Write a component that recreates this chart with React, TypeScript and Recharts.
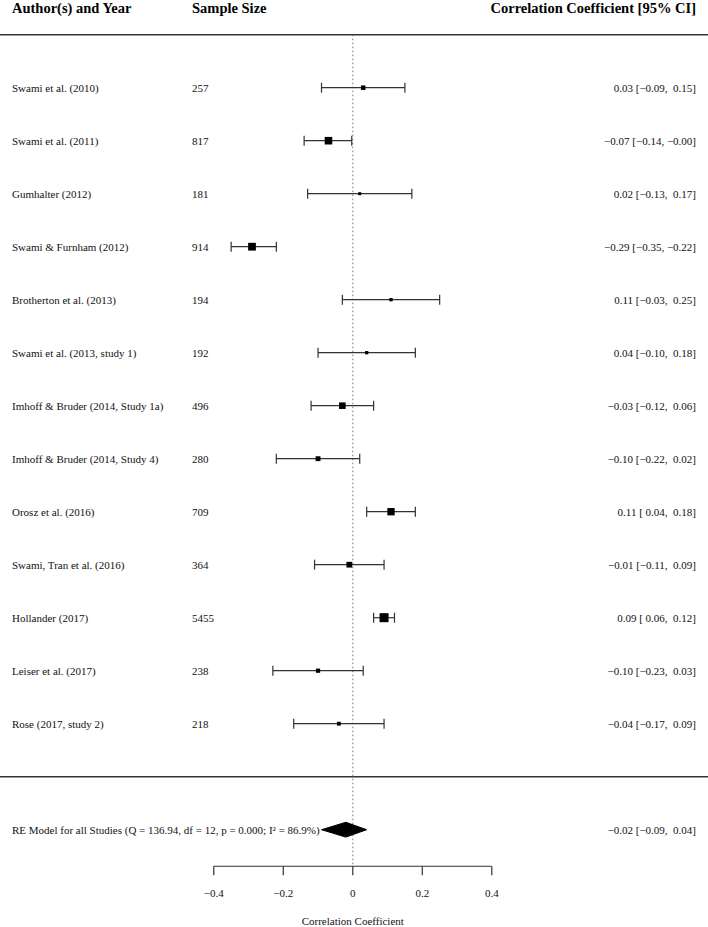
import { ComposedChart, XAxis, YAxis, Scatter, ErrorBar, ReferenceLine } from 'recharts';

// study level data
const authors = [
  'Swami et al. (2010)',
  'Swami et al. (2011)',
  'Gumhalter (2012)',
  'Swami & Furnham (2012)',
  'Brotherton et al. (2013)',
  'Swami et al. (2013, study 1)',
  'Imhoff & Bruder (2014, Study 1a)',
  'Imhoff & Bruder (2014, Study 4)',
  'Orosz et al. (2016)',
  'Swami, Tran et al. (2016)',
  'Hollander (2017)',
  'Leiser et al. (2017)',
  'Rose (2017, study 2)',
];
const sampleSizes = [257, 817, 181, 914, 194, 192, 496, 280, 709, 364, 5455, 238, 218];
const estimates = [0.03, -0.07, 0.02, -0.29, 0.11, 0.04, -0.03, -0.1, 0.11, -0.01, 0.09, -0.1, -0.04];
const lowerCI = [-0.09, -0.14, -0.13, -0.35, -0.03, -0.1, -0.12, -0.22, 0.04, -0.11, 0.06, -0.23, -0.17];
const upperCI = [0.15, -0.003, 0.17, -0.22, 0.25, 0.18, 0.06, 0.02, 0.18, 0.09, 0.12, 0.03, 0.09];

// random effects summary
const summaryEstimate = -0.02;
const summaryLower = -0.09;
const summaryUpper = 0.04;
const qStat = 136.94;
const qDf = 12;
const pValue = '0.000';
const iSquared = '86.9';

const axisTicks = [-0.4, -0.2, 0, 0.2, 0.4];
const headers = ['Author(s) and Year', 'Sample Size', 'Correlation Coefficient [95% CI]'];
const axisTitle = 'Correlation Coefficient';

// layout (pixels / row units)
const W = 708;
const H = 927;
const X_DOMAIN = [-1.0152, 1.0222];
const Y_DOMAIN = [-0.6547, 16.836];
const COL_AUTHOR = 12;
const COL_N = 192;
const COL_RIGHT = 696;
const HEADER_ROW = -0.5;
const BOTTOM_LINE_ROW = 14;
const SUMMARY_ROW = 15;
const AXIS_ROW = 15.69;
const TICK_LEN = 0.17;
const TICK_LABEL_ROW = 16.2;
const TITLE_ROW = 16.73;
const DIAMOND_HALF = 0.14;
const FONT = '"Liberation Serif", "Times New Roman", serif';
const LINE = '#333';

const minus = '\u2212';
const fmt = (v: number) => (v < 0 ? minus : '') + Math.abs(v).toFixed(2);
const padFmt = (v: number) => (v < 0 ? fmt(v) : ' ' + fmt(v));
const ciText = (e: number, l: number, u: number) => `${fmt(e)} [${padFmt(l)}, ${padFmt(u)}]`;
const tickText = (t: number) => (t === 0 ? '0' : (t < 0 ? minus : '') + Math.abs(t).toFixed(1));

// RE weights -> square sizes (metafor style: rescaled to 0.5 .. 1.5)
const fisherW = sampleSizes.map((n) => n - 3);
const sumW = fisherW.reduce((a, b) => a + b, 0);
const sumW2 = fisherW.reduce((a, b) => a + b * b, 0);
const tau2 = (qStat - qDf) / (sumW - sumW2 / sumW);
const reW = sampleSizes.map((n) => 1 / (1 / (n - 3) + tau2));
const wMin = Math.min(...reW);
const wMax = Math.max(...reW);
const psize = reW.map((w) => (w - wMin) / (wMax - wMin) + 0.5);

const studyData = authors.map((author, i) => ({
  x: estimates[i],
  y: i + 1,
  err: [estimates[i] - lowerCI[i], upperCI[i] - estimates[i]],
  author,
  n: sampleSizes[i],
  side: psize[i] * 6,
  label: ciText(estimates[i], lowerCI[i], upperCI[i]),
}));

const diamondData = [
  { x: summaryLower, y: SUMMARY_ROW },
  { x: summaryEstimate, y: SUMMARY_ROW - DIAMOND_HALF },
  { x: summaryUpper, y: SUMMARY_ROW },
  { x: summaryEstimate, y: SUMMARY_ROW + DIAMOND_HALF },
  { x: summaryLower, y: SUMMARY_ROW },
];

const summaryData = [{ x: summaryEstimate, y: SUMMARY_ROW }];
const headerData = [{ x: 0, y: HEADER_ROW }];
const tickData = axisTicks.map((t) => ({ x: t, y: TICK_LABEL_ROW, label: tickText(t) }));
const titleData = [{ x: 0, y: TITLE_ROW }];

const bodyText = {
  fontFamily: FONT,
  fontSize: 11,
  fill: '#111',
  dy: '0.35em',
  style: { whiteSpace: 'pre' as const },
};

const StudyShape = (props: any) => {
  const { cx, cy, payload } = props;
  const s = payload.side;
  return (
    <g>
      <rect x={cx - s / 2} y={cy - s / 2} width={s} height={s} fill="#000" />
      <text x={COL_AUTHOR} y={cy} {...bodyText}>{payload.author}</text>
      <text x={COL_N} y={cy} {...bodyText}>{payload.n}</text>
      <text x={COL_RIGHT} y={cy} textAnchor="end" {...bodyText}>{payload.label}</text>
    </g>
  );
};

const SummaryShape = (props: any) => {
  const { cy } = props;
  return (
    <g>
      <text x={COL_AUTHOR} y={cy} {...bodyText}>
        {`RE Model for all Studies (Q = ${qStat.toFixed(2)}, df = ${qDf}, p = ${pValue}; I\u00B2 = ${iSquared}%)`}
      </text>
      <text x={COL_RIGHT} y={cy} textAnchor="end" {...bodyText}>
        {ciText(summaryEstimate, summaryLower, summaryUpper)}
      </text>
    </g>
  );
};

const HeaderShape = (props: any) => {
  const { cy } = props;
  const common = { fontFamily: FONT, fontSize: 14.5, fontWeight: 700, fill: '#000', dy: '0.35em' };
  return (
    <g>
      <text x={COL_AUTHOR} y={cy} {...common}>{headers[0]}</text>
      <text x={COL_N} y={cy} {...common}>{headers[1]}</text>
      <text x={COL_RIGHT} y={cy} textAnchor="end" {...common}>{headers[2]}</text>
    </g>
  );
};

const TickShape = (props: any) => {
  const { cx, cy, payload } = props;
  return (
    <text x={cx} y={cy} textAnchor="middle" {...bodyText}>{payload.label}</text>
  );
};

const TitleShape = (props: any) => {
  const { cx, cy } = props;
  return (
    <text x={cx} y={cy} textAnchor="middle" {...bodyText}>{axisTitle}</text>
  );
};

export default function App() {
  return (
    <div style={{ position: 'absolute', left: 0, top: 0, background: '#fff' }}>
      <ComposedChart width={W} height={H} margin={{ top: 0, right: 0, bottom: 0, left: 0 }}>
        <XAxis type="number" dataKey="x" domain={X_DOMAIN} allowDataOverflow hide />
        <YAxis type="number" dataKey="y" domain={Y_DOMAIN} allowDataOverflow reversed hide />

        <ReferenceLine y={0} stroke={LINE} strokeWidth={1.5} />
        <ReferenceLine y={BOTTOM_LINE_ROW} stroke={LINE} strokeWidth={1.5} />
        <ReferenceLine
          segment={[{ x: 0, y: 0 }, { x: 0, y: AXIS_ROW }]}
          stroke="#777"
          strokeDasharray="1.5 2.5"
        />
        <ReferenceLine
          segment={[{ x: axisTicks[0], y: AXIS_ROW }, { x: axisTicks[axisTicks.length - 1], y: AXIS_ROW }]}
          stroke={LINE}
          strokeWidth={1.2}
        />
        {axisTicks.map((t) => (
          <ReferenceLine
            key={t}
            segment={[{ x: t, y: AXIS_ROW }, { x: t, y: AXIS_ROW + TICK_LEN }]}
            stroke={LINE}
            strokeWidth={1.2}
          />
        ))}

        <Scatter data={headerData} shape={HeaderShape} isAnimationActive={false} />
        <Scatter data={studyData} shape={StudyShape} isAnimationActive={false}>
          <ErrorBar dataKey="err" direction="x" width={5} stroke={LINE} strokeWidth={1.2} />
        </Scatter>
        <Scatter
          data={diamondData}
          shape={() => <g />}
          line={{ fill: '#000', stroke: '#000', strokeWidth: 1 }}
          lineType="joint"
          isAnimationActive={false}
        />
        <Scatter data={summaryData} shape={SummaryShape} isAnimationActive={false} />
        <Scatter data={tickData} shape={TickShape} isAnimationActive={false} />
        <Scatter data={titleData} shape={TitleShape} isAnimationActive={false} />
      </ComposedChart>
    </div>
  );
}
